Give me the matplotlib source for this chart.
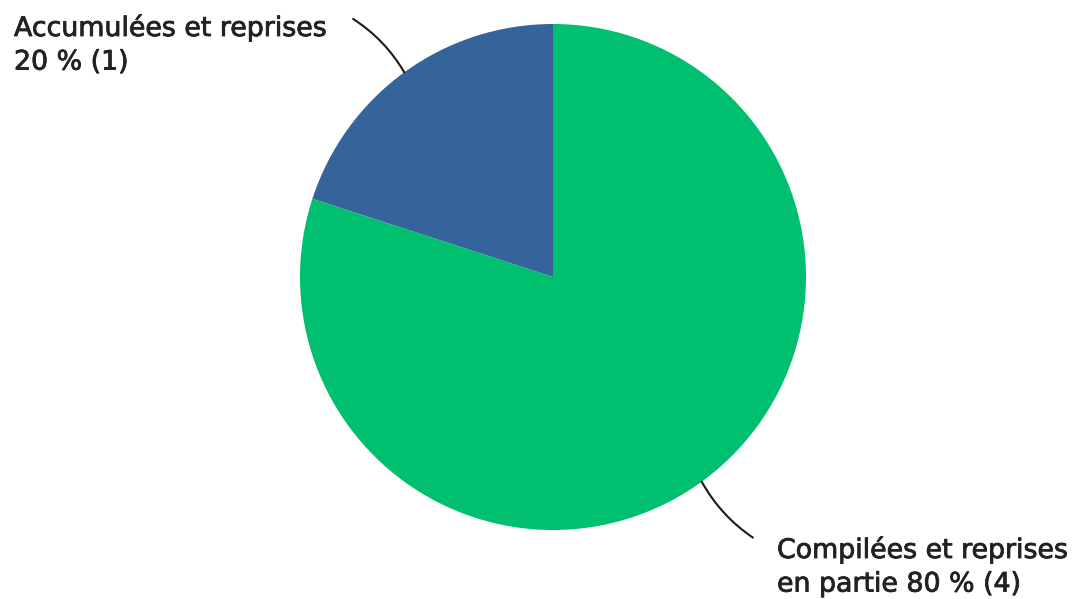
import numpy as np
import matplotlib
matplotlib.use("Agg")
import matplotlib.pyplot as plt
import matplotlib.patheffects as pe

# data
labels = ["Accumulées et reprises\n20 % (1)", "Compilées et reprises\nen partie 80 % (4)"]
counts = [1, 4]
colors = ["#35649c", "#00bf6f"]

W, H = 1076, 599
fig = plt.figure(figsize=(W / 100, H / 100), dpi=100)
plt.rcParams['font.family'] = ['DejaVu Sans']

# pie: centre (553, 277) px, radius 253 px
cx, cy, r = 553, 277, 253
ax = fig.add_axes([(cx - r) / W, (H - cy - r) / H, 2 * r / W, 2 * r / H])
wedges, _ = ax.pie(counts, colors=colors, startangle=90, counterclock=True,
                   radius=1, wedgeprops=dict(linewidth=0))
ax.set_xlim(-1, 1)
ax.set_ylim(-1, 1)
ax.set_aspect('equal')
ax.axis('off')

# leader lines from wedge mid-angle out to the labels
ends = [(-0.79, 1.02), (0.79, -1.03)]
rads = [-0.12, -0.12]
for w, end, rad in zip(wedges, ends, rads):
    mid = np.deg2rad((w.theta1 + w.theta2) / 2)
    p = (np.cos(mid), np.sin(mid))
    ax.annotate("", xy=p, xytext=end, xycoords='data', textcoords='data',
                annotation_clip=False,
                arrowprops=dict(arrowstyle='-', color='#1a1a1a', lw=1.5,
                                connectionstyle=f"arc3,rad={rad}",
                                shrinkA=0, shrinkB=0))

txt = dict(fontsize=19.3, color='#222222', linespacing=1.38, va='top', ha='left',
           path_effects=[pe.withStroke(linewidth=0.6, foreground='#222222')])
fig.text(14 / W, 1 - 14 / H, labels[0], **txt)
fig.text(777 / W, 1 - 536 / H, labels[1], **txt)

fig.savefig("out.png", dpi=100)
